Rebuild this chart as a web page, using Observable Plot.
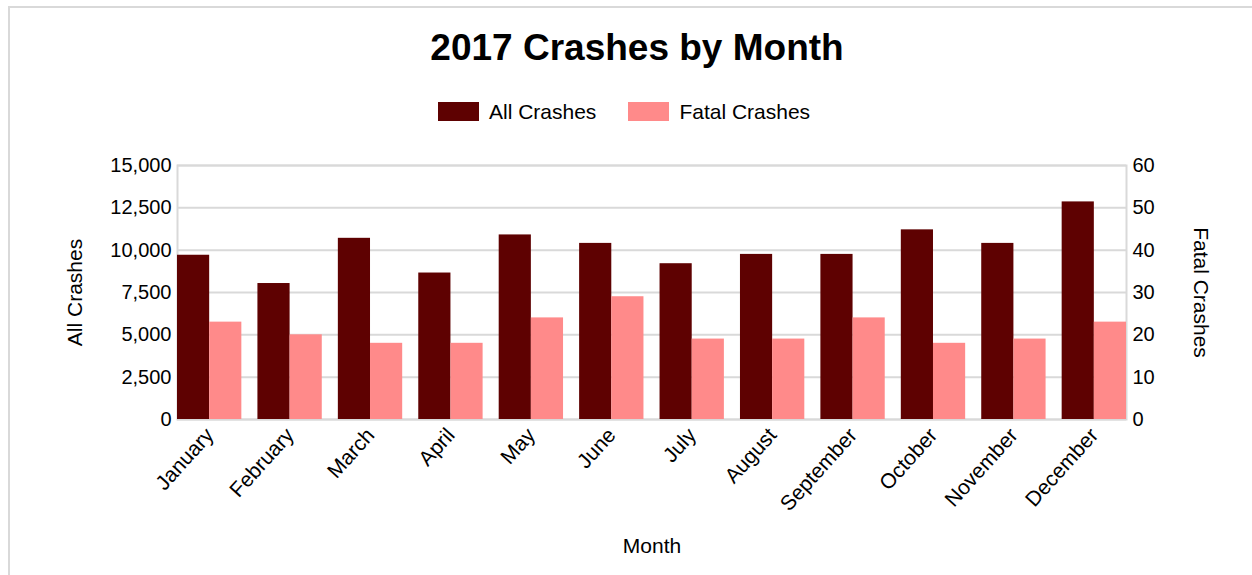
<!DOCTYPE html>
<html>
<head>
<meta charset="utf-8">
<script src="https://cdn.jsdelivr.net/npm/d3@7"></script>
<script src="https://cdn.jsdelivr.net/npm/@observablehq/plot@0.6"></script>
<style>
  html, body { margin: 0; padding: 0; background: #fff; }
  body { width: 1252px; height: 575px; position: relative; overflow: hidden; font-family: "Liberation Sans", Arial, sans-serif; color: #000; }
  #frame { position: absolute; left: 8px; top: 6px; width: 1300px; height: 700px; border-top: 2px solid #d9d9d9; border-left: 2px solid #d9d9d9; }
  #title { position: absolute; left: 0; width: 1274px; top: 29px; text-align: center; font-size: 37px; line-height: 37px; font-weight: bold; }
  #legend { position: absolute; left: 438px; top: 101px; display: flex; align-items: center; font-size: 21px; line-height: 21px; }
  .item { display: flex; align-items: center; margin-right: 32px; }
  .sw { width: 41px; height: 19px; margin-right: 10px; }
  #chart { position: absolute; left: 0; top: 140px; }
</style>
</head>
<body>
<div id="frame"></div>
<div id="title">2017 Crashes by Month</div>
<div id="legend"></div>
<div id="chart"></div>
<script>
const months = ["January","February","March","April","May","June","July","August","September","October","November","December"];
const allCrashes = [9700, 8030, 10700, 8650, 10900, 10400, 9200, 9750, 9750, 11200, 10400, 12850];
const fatalCrashes = [23, 20, 18, 18, 24, 29, 19, 19, 24, 18, 19, 23];
const leftTicks = [0, 2500, 5000, 7500, 10000, 12500, 15000];
const rightTicks = [0, 10, 20, 30, 40, 50, 60];
const seriesNames = ["All Crashes", "Fatal Crashes"];
const seriesColors = ["#5e0101", "#ff8a8a"];

// legend
const legend = document.getElementById("legend");
seriesNames.forEach((name, i) => {
  const it = document.createElement("div");
  it.className = "item";
  const sw = document.createElement("div");
  sw.className = "sw";
  sw.style.background = seriesColors[i];
  const tx = document.createElement("span");
  tx.textContent = name;
  it.appendChild(sw); it.appendChild(tx);
  legend.appendChild(it);
});

const ratio = leftTicks[leftTicks.length - 1] / rightTicks[rightTicks.length - 1];
const allData = months.map((m, i) => ({month: m, value: allCrashes[i]}));
const fatalData = months.map((m, i) => ({month: m, value: fatalCrashes[i]}));

const width = 1252, height = 435;
const marginLeft = 177, marginRight = 126, marginTop = 25, marginBottom = 156;
const paddingInner = 0.2;
const step = (width - marginLeft - marginRight) / (months.length - paddingInner);
const half = step * (1 - paddingInner) / 2;
const fmt = d3.format(",");

const chart = Plot.plot({
  width, height, marginLeft, marginRight, marginTop, marginBottom,
  style: {fontSize: "20px", fontFamily: "'Liberation Sans', Arial, sans-serif", color: "#000", background: "transparent"},
  x: {domain: months, paddingInner, paddingOuter: 0, align: 0.5, round: false},
  y: {domain: [0, leftTicks[leftTicks.length - 1]]},
  marks: [
    Plot.gridY(leftTicks, {stroke: "#d9d9d9", strokeOpacity: 1, strokeWidth: 2}),
    Plot.frame({stroke: "#d9d9d9", strokeWidth: 2}),
    Plot.barY(allData, {x: "month", y: "value", fill: seriesColors[0], insetRight: half}),
    Plot.barY(fatalData, {x: "month", y: d => d.value * ratio, fill: seriesColors[1], insetLeft: half}),
    Plot.axisY(leftTicks, {anchor: "left", tickSize: 0, tickPadding: 6, tickFormat: fmt, label: null}),
    Plot.axisY(rightTicks.map(v => v * ratio), {anchor: "right", tickSize: 0, tickPadding: 6, tickFormat: d => d / ratio, label: null}),
    Plot.axisX({tickRotate: -48, tickSize: 0, tickPadding: 12, fontSize: 21, label: null}),
    Plot.text(["All Crashes"], {text: d => d, frameAnchor: "left", textAnchor: "middle", rotate: -90, dx: -102, fontSize: 21}),
    Plot.text(["Fatal Crashes"], {text: d => d, frameAnchor: "right", textAnchor: "middle", rotate: 90, dx: 74, fontSize: 21}),
    Plot.text(["Month"], {text: d => d, frameAnchor: "bottom", dy: 133, fontSize: 21})
  ]
});
document.getElementById("chart").appendChild(chart);
</script>
</body>
</html>
